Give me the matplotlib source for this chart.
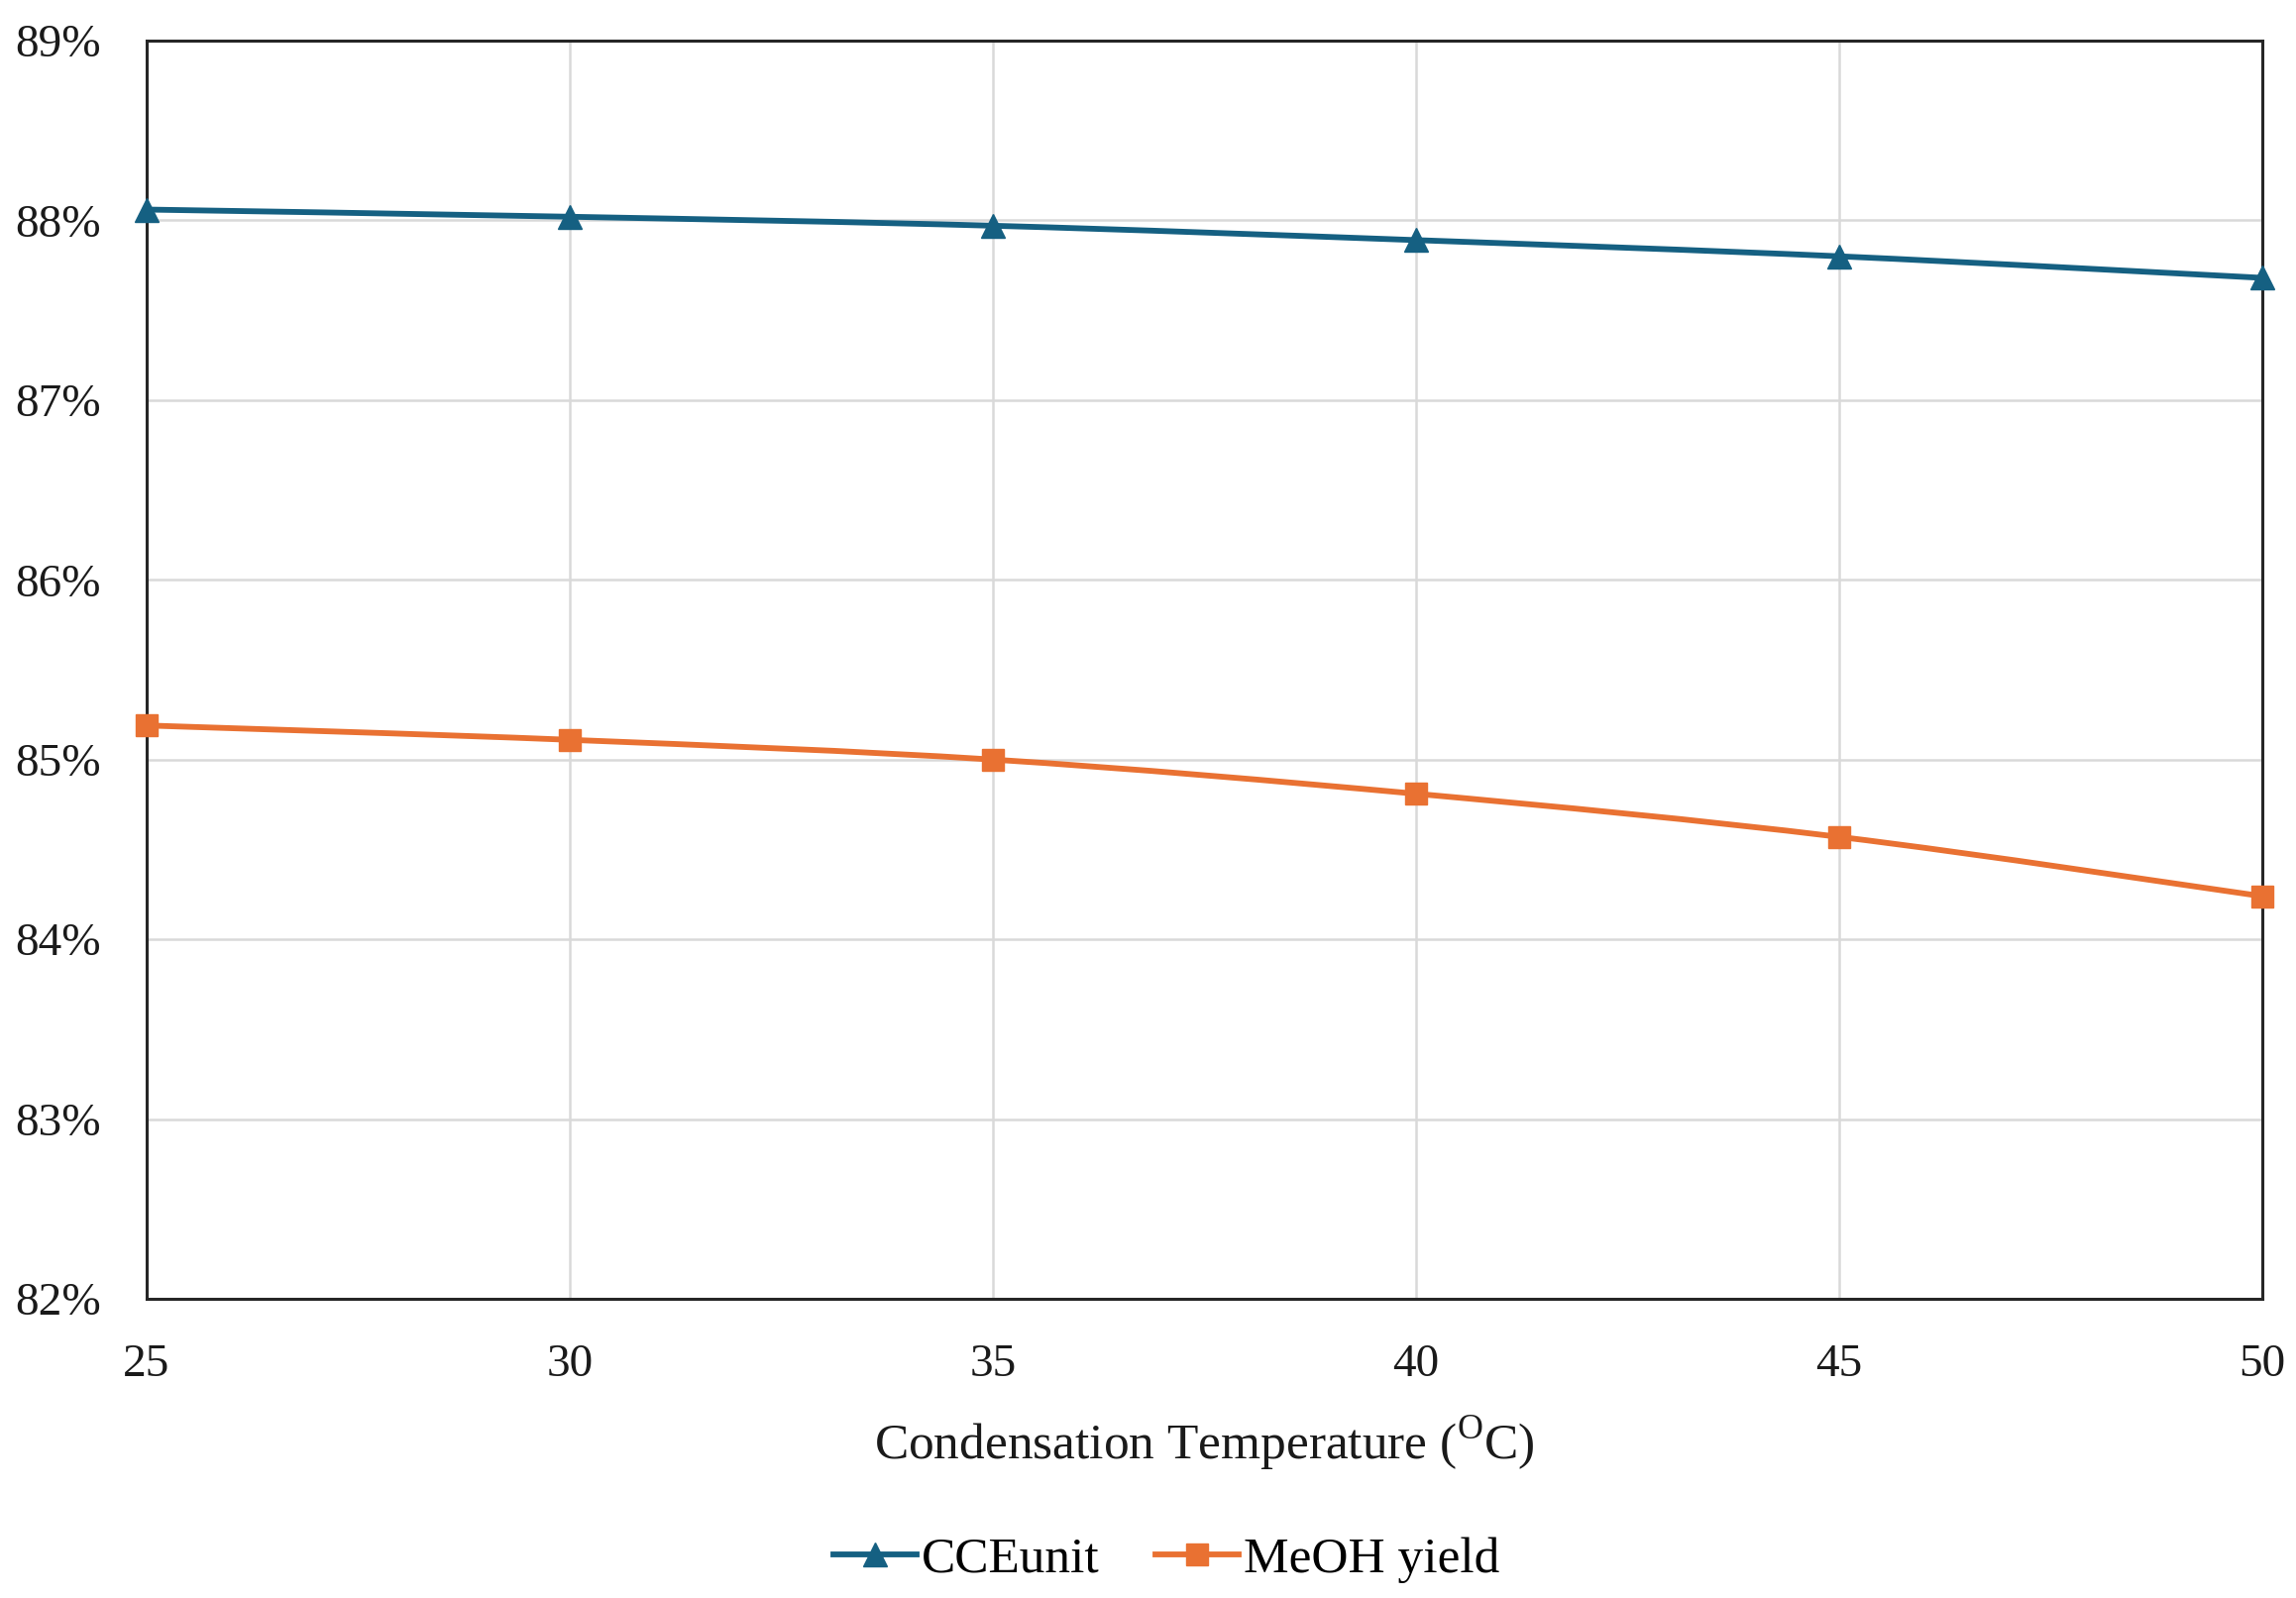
import matplotlib
matplotlib.use("Agg")
import matplotlib.pyplot as plt
from matplotlib.path import Path
from matplotlib.patches import PathPatch
from matplotlib.lines import Line2D
from matplotlib.ticker import FuncFormatter
import numpy as np

temps = [25, 30, 35, 40, 45, 50]
cce_unit = [88.06, 88.02, 87.97, 87.89, 87.80, 87.68]
meoh_yield = [85.19, 85.11, 85.00, 84.81, 84.57, 84.24]
series_names = ["CCEunit", "MeOH yield"]
x_label = "Condensation Temperature ($^{\\mathrm{O}}$C)"

BLUE = "#156082"
ORANGE = "#E97132"

plt.rcParams['font.family'] = ['Liberation Serif', 'DejaVu Serif']
plt.rcParams['mathtext.fontset'] = 'custom'
plt.rcParams['mathtext.rm'] = 'Liberation Serif'

fig = plt.figure(figsize=(23.17, 16.13), dpi=100)
ax = fig.add_axes([0.0639, 0.1872, 0.9853 - 0.0639, 0.9746 - 0.1872])


def smooth_path(xs, ys):
    pts = np.column_stack([xs, ys]).astype(float)
    n = len(pts)
    verts = [pts[0]]
    codes = [Path.MOVETO]
    for i in range(n - 1):
        p0 = pts[i - 1] if i > 0 else pts[i]
        p1 = pts[i]
        p2 = pts[i + 1]
        p3 = pts[i + 2] if i + 2 < n else pts[i + 1]
        c1 = p1 + (p2 - p0) / 6.0
        c2 = p2 - (p3 - p1) / 6.0
        verts += [c1, c2, p2]
        codes += [Path.CURVE4] * 3
    return Path(verts, codes)


LW = 4.2
for vals, color, marker, ms in [(cce_unit, BLUE, '^', 17), (meoh_yield, ORANGE, 's', 16)]:
    patch = PathPatch(smooth_path(temps, vals), facecolor='none', edgecolor=color,
                      lw=LW, zorder=3, clip_on=False, capstyle='round')
    ax.add_patch(patch)
    ax.plot(temps, vals, linestyle='none', marker=marker, markersize=ms,
            color=color, zorder=4, clip_on=False)

ax.set_xlim(25, 50)
ax.set_ylim(82, 89)
ax.set_xticks(temps)
ax.set_yticks(np.arange(82, 90, 1))
ax.yaxis.set_major_formatter(FuncFormatter(lambda v, p: f"{int(round(v))}%"))
ax.grid(True, color="#D9D9D9", lw=1.8, zorder=0)
ax.set_axisbelow(True)
for s in ax.spines.values():
    s.set_color("#262626")
    s.set_linewidth(2.2)
ax.tick_params(axis='both', length=0, labelsize=34, colors="#1a1a1a")
ax.tick_params(axis='y', pad=33)
ax.tick_params(axis='x', pad=33)
ax.set_xlabel(x_label, fontsize=37, labelpad=20, color="#1a1a1a")

handles = [Line2D([], [], color=BLUE, lw=LW, marker='^', markersize=17),
           Line2D([], [], color=ORANGE, lw=LW, marker='s', markersize=16)]
fig.legend(handles, series_names, loc='center', bbox_to_anchor=(0.508, 0.024),
           ncol=2, frameon=False, fontsize=37, handlelength=1.63,
           handletextpad=0.1, columnspacing=1.1)

fig.savefig("out.png", dpi=100, facecolor='white')
